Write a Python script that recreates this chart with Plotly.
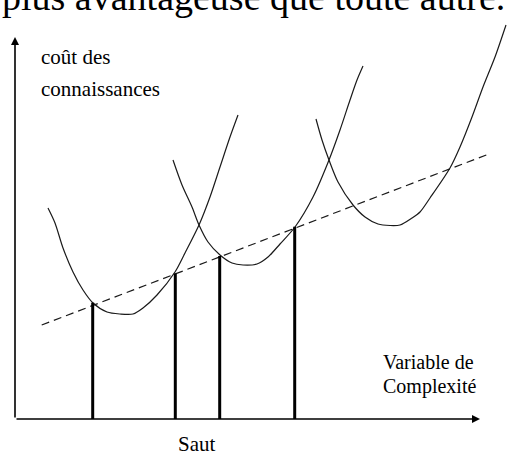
import plotly.graph_objects as go

# Coordinate system: origin at the axes corner, x = complexity, y = knowledge cost
curve1_x = [33, 40, 48, 58, 68, 78, 92, 105, 118, 128, 142, 160, 170, 184, 195, 205, 215, 223]
curve1_y = [211, 196, 171, 147, 129, 116, 107, 105, 105, 111, 124, 147, 166, 194, 222, 252, 282, 304]

curve2_x = [158, 167, 177, 184, 193, 205, 217, 228, 242, 253, 265, 280, 298, 314, 325, 335, 342, 348]
curve2_y = [259, 234, 212, 194, 177, 164, 156, 154, 155, 162, 175, 192, 222, 259, 289, 319, 339, 353]

curve3_x = [301, 307, 314, 323, 338, 350, 363, 375, 385, 397, 405, 415, 435, 445, 457, 468, 480, 491]
curve3_y = [300, 279, 259, 237, 214, 202, 195, 193.5, 194, 201, 207, 221, 251, 272, 302, 332, 362, 394]

trend_x = [26.7, 475.7]
trend_y = [94, 265.7]

jump_x = [77.7, 160.3, 204.7, 279.7]
jump_top = [116.3, 145.7, 163, 192.3]

axis_x_end = 465
axis_y_end = 382

y_label = ["coût des", "connaissances"]
x_label = ["Variable de", "Complexité"]
jump_label = "Saut"
top_text = "plus avantageuse que toute autre."

FONT = "Liberation Serif"
H = 459

fig = go.Figure()

for cx, cy in [(curve1_x, curve1_y), (curve2_x, curve2_y), (curve3_x, curve3_y)]:
    fig.add_trace(go.Scatter(x=cx, y=cy, mode="lines", line=dict(color="#1a1a1a", width=1.2, shape="spline", smoothing=0.8),
                             hoverinfo="skip", showlegend=False))

fig.add_trace(go.Scatter(x=trend_x, y=trend_y, mode="lines",
                         line=dict(color="#1a1a1a", width=1.2, dash="8px,5px"),
                         hoverinfo="skip", showlegend=False))

vx, vy = [], []
for x, t in zip(jump_x, jump_top):
    vx += [x, x, None]
    vy += [0, t, None]
fig.add_trace(go.Scatter(x=vx, y=vy, mode="lines", line=dict(color="black", width=3),
                         hoverinfo="skip", showlegend=False))

annotations = [
    dict(x=0, y=axis_y_end, ax=0, ay=0, xref="x", yref="y", axref="x", ayref="y",
         showarrow=True, arrowhead=2, arrowsize=1, arrowwidth=1.6, arrowcolor="black", text="", standoff=0),
    dict(x=axis_x_end, y=0, ax=0, ay=0, xref="x", yref="y", axref="x", ayref="y",
         showarrow=True, arrowhead=2, arrowsize=1, arrowwidth=1.6, arrowcolor="black", text="", standoff=0),
]

def label(text, x, baseline, size):
    return dict(x=x, y=baseline + 0.3 * size, xref="x", yref="y", text=text, showarrow=False,
                xanchor="left", yanchor="middle", font=dict(family=FONT, size=size, color="black"))

annotations.append(label(y_label[0], 24, 419 - 63.5, 21))
annotations.append(label(y_label[1], 24, 419 - 95, 21))
annotations.append(label(x_label[0], 366, 419 - 367.5, 20))
annotations.append(label(x_label[1], 366, 419 - 392.5, 20))
annotations.append(label(jump_label, 161, 419 - 450, 21))

# header sentence, clipped at the top edge of the image
top_baseline_px = 8.5
top_size = 38
annotations.append(dict(x=-15, y=1 + (0.3 * top_size - top_baseline_px) / H, xref="x", yref="paper",
                        text=top_text, showarrow=False, xanchor="left", yanchor="middle",
                        font=dict(family=FONT, size=top_size, color="black")))

fig.update_layout(
    width=518, height=H,
    margin=dict(l=0, r=0, t=0, b=0),
    paper_bgcolor="white", plot_bgcolor="white",
    xaxis=dict(range=[-15, 503], visible=False, fixedrange=True),
    yaxis=dict(range=[-40, 419], visible=False, fixedrange=True),
    annotations=annotations,
    showlegend=False,
)

fig.write_html("out.html", config={"displayModeBar": False},
               post_script="document.body.style.margin='0px';document.body.style.overflow='hidden';")
